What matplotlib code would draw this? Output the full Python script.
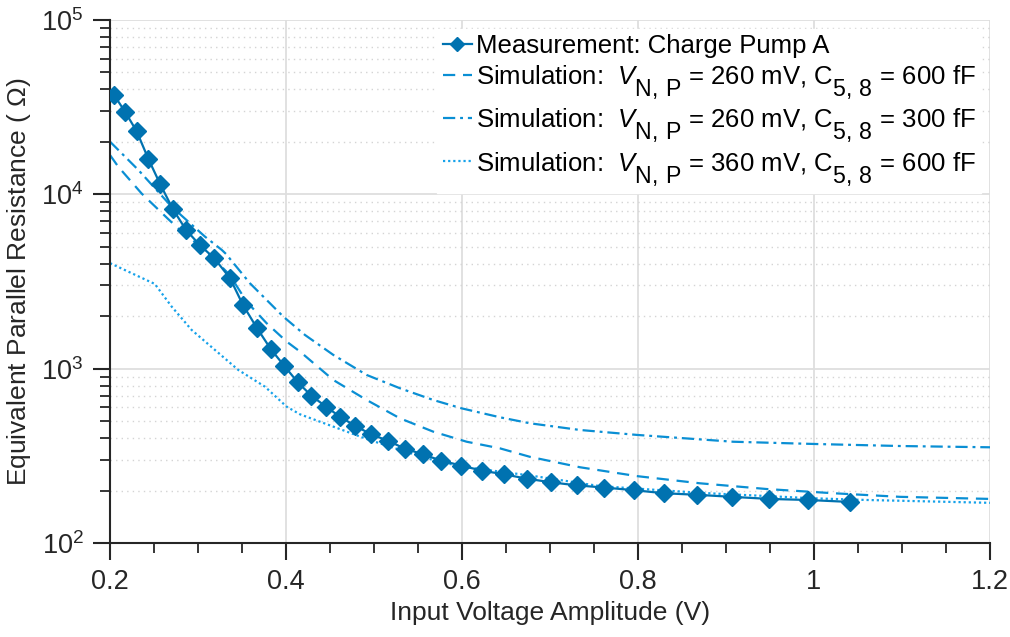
import matplotlib
matplotlib.use("Agg")
import matplotlib.pyplot as plt
import matplotlib._mathtext as mathtext_impl
from matplotlib.ticker import LogLocator, MultipleLocator, FixedLocator, NullFormatter, LogFormatterSciNotation

plt.rcParams["font.family"] = ["Liberation Sans", "DejaVu Sans"]
plt.rcParams["mathtext.fontset"] = "custom"
plt.rcParams["mathtext.rm"] = "Liberation Sans"
plt.rcParams["mathtext.it"] = "Liberation Sans:italic"
plt.rcParams["mathtext.bf"] = "Liberation Sans:bold"

# Measured equivalent parallel resistance of charge pump A
meas_v = [0.2045, 0.2174, 0.2303, 0.2435, 0.2568, 0.2713, 0.2864, 0.3023, 0.3185, 0.3364,
          0.3511, 0.3667, 0.3826, 0.3981, 0.4133, 0.4288, 0.4455, 0.4614, 0.4788, 0.4969,
          0.5163, 0.5349, 0.5553, 0.5761, 0.5992, 0.6227, 0.6474, 0.6735, 0.7011, 0.7307,
          0.7617, 0.7949, 0.8295, 0.8670, 0.9068, 0.9489, 0.9932, 1.0406]
meas_r = [37200, 29600, 23000, 16000, 11500, 8250, 6250, 5100, 4300, 3300,
          2320, 1720, 1297, 1036, 836, 700, 605, 530, 469, 420,
          385, 348, 323, 297, 278, 260, 248, 234, 223, 214,
          208, 201, 193, 189, 184, 179, 176.5, 172]

# Simulation: V_N,P = 260 mV, C_5,8 = 600 fF
sim1_v = [0.2, 0.2094, 0.236, 0.2663, 0.2815, 0.308, 0.336, 0.3553, 0.378, 0.4008, 0.416,
          0.4538, 0.4917, 0.5295, 0.5674, 0.6053, 0.6432, 0.6773, 0.734, 0.7985, 0.8705,
          0.9462, 1.0216, 1.0977, 1.2]
sim1_r = [16800, 14400, 10100, 7200, 6110, 4800, 3450, 2420, 1822, 1429, 1252,
          861, 661, 519, 435, 381, 349, 312, 272, 242, 220,
          204, 193, 184, 179]

# Simulation: V_N,P = 260 mV, C_5,8 = 300 fF
sim2_v = [0.2, 0.2322, 0.2701, 0.308, 0.327, 0.3318, 0.359, 0.397, 0.4216, 0.4538, 0.4917,
          0.5295, 0.5674, 0.5997, 0.6432, 0.6773, 0.734, 0.7985, 0.908, 0.999, 1.0977, 1.2]
sim2_r = [20050, 13800, 8490, 5715, 4800, 4550, 3090, 1987, 1560, 1199, 920,
          772, 661, 592, 526, 486, 445, 417, 381, 370, 360, 354]

# Simulation: V_N,P = 360 mV, C_5,8 = 600 fF
sim3_v = [0.2, 0.2492, 0.251, 0.2701, 0.2928, 0.3193, 0.3458, 0.3761, 0.4008, 0.416, 0.4538,
          0.4917, 0.5295, 0.5674, 0.5997, 0.6773, 0.7568, 0.8705, 0.9989, 1.06, 1.2]
sim3_r = [4030, 3090, 3060, 2269, 1667, 1280, 983, 788, 605, 547, 465,
          395, 342, 299, 274, 244, 212, 194, 180.5, 176.5, 170]

labels = [
    "Measurement: Charge Pump A",
    r"Simulation:  $\mathit{V}_{\mathrm{N,\,P}}$ = 260 mV, C$_{\mathrm{5,\,8}}$ = 600 fF",
    r"Simulation:  $\mathit{V}_{\mathrm{N,\,P}}$ = 260 mV, C$_{\mathrm{5,\,8}}$ = 300 fF",
    r"Simulation:  $\mathit{V}_{\mathrm{N,\,P}}$ = 360 mV, C$_{\mathrm{5,\,8}}$ = 600 fF",
]

c_meas = "#0072B0"
c_sim = "#0A8FD4"
c_sim3 = "#16A2EA"

fig = plt.figure(figsize=(10.10, 6.37), dpi=100)
ax = fig.add_axes([110 / 1010, 1 - 543 / 637, 880 / 1010, 523 / 637])

lines = []
lines += ax.plot(meas_v, meas_r, color=c_meas, lw=1.6, marker="D", ms=9.5, zorder=5)
lines += ax.plot(sim1_v, sim1_r, color=c_sim, lw=1.6, ls=(0, (5.5, 3.5)))
lines += ax.plot(sim2_v, sim2_r, color=c_sim, lw=1.6, ls=(0, (5.5, 2.2, 1.3, 2.2)))
lines += ax.plot(sim3_v, sim3_r, color=c_sim3, lw=1.6, ls=(0, (1, 1.3)))

ax.set_yscale("log")
ax.set_xlim(0.2, 1.2)
ax.set_ylim(1e2, 1e5)

ax.xaxis.set_major_locator(FixedLocator([0.2, 0.4, 0.6, 0.8, 1.0, 1.2]))
ax.set_xticklabels(["0.2", "0.4", "0.6", "0.8", "1", "1.2"])
ax.xaxis.set_minor_locator(MultipleLocator(0.05))
ax.yaxis.set_major_locator(LogLocator(base=10, numticks=10))
ax.yaxis.set_major_formatter(LogFormatterSciNotation())
ax.yaxis.set_minor_locator(LogLocator(base=10, subs=range(2, 10), numticks=20))
ax.yaxis.set_minor_formatter(NullFormatter())

ax.grid(which="major", color="#dedede", lw=1.3)
ax.grid(which="minor", axis="y", color="#d4d4d4", lw=1.0, ls=(0, (1, 3)))
ax.set_axisbelow(True)

for side in ("top", "right"):
    ax.spines[side].set_visible(False)
for side in ("left", "bottom"):
    ax.spines[side].set_linewidth(1.5)
    ax.spines[side].set_color("#262626")

ax.tick_params(which="major", direction="out", length=12, width=1.5, color="#262626",
               labelsize=19.5, pad=7, labelcolor="#262626")
ax.tick_params(which="minor", direction="out", length=7, width=1.3, color="#262626")

ax.set_xlabel("Input Voltage Amplitude (V)", fontsize=19, color="#262626", labelpad=4)
ax.set_ylabel(r"Equivalent Parallel Resistance ( $\mathit{\Omega}$)", fontsize=19,
              color="#262626", labelpad=6)

# Lay out the axes once so the exponent labels keep the normal script size,
# then enlarge and lower the subscripts used in the legend entries.
fig.canvas.draw()
mathtext_impl.SHRINK_FACTOR = 0.9
mathtext_impl.FontConstantsBase.sub1 = 0.9

leg = ax.legend(lines, labels, loc="upper right", fontsize=18.5, frameon=True, fancybox=False,
                handlelength=1.15, handletextpad=0.15, borderpad=0.2, labelspacing=0.2,
                borderaxespad=0.35, markerscale=0.8)
leg.get_frame().set_facecolor("white")
leg.get_frame().set_edgecolor("white")
leg.get_frame().set_alpha(1.0)

fig.savefig("out.png", dpi=100)
